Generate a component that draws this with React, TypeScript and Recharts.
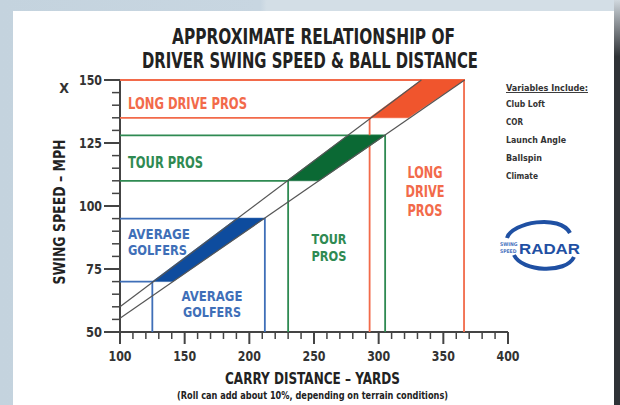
import { ComposedChart, Scatter, XAxis, YAxis } from 'recharts'

// carry distance (yards) vs swing speed (mph)
const xTicks = [100, 110, 120, 130, 140, 150, 160, 170, 180, 190, 200, 210, 220, 230, 240, 250, 260, 270, 280, 290, 300, 310, 320, 330, 340, 350, 360, 370, 380, 390, 400]
const yTicks = [50, 55, 60, 65, 70, 75, 80, 85, 90, 95, 100, 105, 110, 115, 120, 125, 130, 135, 140, 145, 150]
const xLabels = [100, 150, 200, 250, 300, 350, 400]
const yLabels = [50, 75, 100, 125, 150]

const upperLine = [{ d: 100, mph: 60 }, { d: 333, mph: 150 }]
const lowerLine = [{ d: 100, mph: 55.5 }, { d: 366.5, mph: 150 }]

const averageBand = [{ d: 125, mph: 70 }, { d: 141, mph: 70 }, { d: 211.5, mph: 95 }, { d: 190, mph: 95 }]
const tourBand = [{ d: 229, mph: 110 }, { d: 254, mph: 110 }, { d: 305, mph: 128 }, { d: 276, mph: 128 }]
const longBand = [{ d: 293, mph: 135 }, { d: 323, mph: 135 }, { d: 366.5, mph: 150 }, { d: 333, mph: 150 }]

const averageLow = [{ d: 100, mph: 70 }, { d: 125, mph: 70 }, { d: 125, mph: 50 }]
const averageHigh = [{ d: 100, mph: 95 }, { d: 212, mph: 95 }, { d: 212, mph: 50 }]
const tourLow = [{ d: 100, mph: 110 }, { d: 230, mph: 110 }, { d: 230, mph: 50 }]
const tourHigh = [{ d: 100, mph: 128 }, { d: 305, mph: 128 }, { d: 305, mph: 50 }]
const longLow = [{ d: 100, mph: 135 }, { d: 293, mph: 135 }, { d: 293, mph: 50 }]
const longHigh = [{ d: 100, mph: 150 }, { d: 366, mph: 150 }, { d: 366, mph: 50 }]

const variables = ['Club Loft', 'COR', 'Launch Angle', 'Ballspin', 'Climate']
const variableWidths = [39, 17, 60, 36, 32]

const FONT = "'Liberation Sans Narrow', 'DejaVu Sans Condensed', 'Arial Narrow', sans-serif"
const ORANGE = '#f26a4a'
const GREEN = '#2f8a52'
const BLUE = '#3f6fb8'
const AXIS = '#444'

const noDot = () => <g />

function YTick({ x, y, payload }: any) {
  const major = yLabels.includes(payload.value)
  return (
    <g>
      <line x1={x - (major ? 16 : 8)} x2={x} y1={y} y2={y} stroke={AXIS} strokeWidth={major ? 2 : 1.5} />
      {major && (
        <text x={x - 18} y={y + 5} textAnchor="end" fontFamily={FONT} fontWeight="bold" fontSize={14.5} fill="#333"
          textLength={payload.value >= 100 ? 23 : 16} lengthAdjust="spacingAndGlyphs">
          {payload.value}
        </text>
      )}
    </g>
  )
}

function XTick({ x, y, payload }: any) {
  const major = xLabels.includes(payload.value)
  return (
    <g>
      <line x1={x} x2={x} y1={y} y2={y + (major ? 12 : 7)} stroke={AXIS} strokeWidth={major ? 2 : 1.5} />
      {major && (
        <text x={x} y={y + 29} textAnchor="middle" fontFamily={FONT} fontWeight="bold" fontSize={14.5} fill="#333"
          textLength={23} lengthAdjust="spacingAndGlyphs">
          {payload.value}
        </text>
      )}
    </g>
  )
}

function boxLine(data: any[], color: string) {
  return <Scatter data={data} line={{ stroke: color, strokeWidth: 1.8 }} shape={noDot} isAnimationActive={false} />
}

function band(data: any[], color: string) {
  return (
    <Scatter
      data={data}
      line={{ fill: color, stroke: color, strokeWidth: 0.5 }}
      lineJointType="linearClosed"
      shape={noDot}
      isAnimationActive={false}
    />
  )
}

// one <text> with a tspan per line; each line squeezed to the width
function label(x: number, y: number, lines: string[], widths: number[], color: string, size = 15.5, gap = 16, anchor = 'start') {
  return (
    <text x={x} y={y} textAnchor={anchor} fontFamily={FONT} fontWeight="bold" fontSize={size} fill={color}>
      {lines.map((l, i) => (
        <tspan key={l} x={x} dy={i === 0 ? 0 : gap} textLength={widths[i]} lengthAdjust="spacingAndGlyphs">
          {l}
        </tspan>
      ))}
    </text>
  )
}

export default function App() {
  return (
    <div
      style={{
        position: 'fixed',
        left: 0,
        top: 0,
        width: 620,
        height: 405,
        overflow: 'hidden',
        background: 'linear-gradient(90deg, #c4d3de 0%, #c8d6e1 42%, #d3dee6 43%, #d3dee6 100%)',
      }}
    >
      <div style={{ position: 'absolute', left: 13, top: 11, width: 601, height: 394, background: '#fff' }} />
      <div
        style={{
          position: 'absolute',
          left: 614,
          top: 0,
          width: 6,
          height: 405,
          background: 'linear-gradient(180deg, #d0d8de 0%, #8a8f94 6%, #2f3236 14%, #2f3236 100%)',
        }}
      />
      <div style={{ position: 'absolute', left: 0, top: 0 }}>
        <ComposedChart width={620} height={405} margin={{ top: 80, right: 112, bottom: 43, left: 80 }}>
          <XAxis
            type="number"
            dataKey="d"
            domain={[100, 400]}
            ticks={xTicks}
            interval={0}
            height={30}
            tickSize={0}
            tickMargin={0}
            tickLine={false}
            axisLine={{ stroke: AXIS, strokeWidth: 2 }}
            tick={<XTick />}
          />
          <YAxis
            type="number"
            dataKey="mph"
            domain={[50, 150]}
            ticks={yTicks}
            interval={0}
            width={40}
            tickSize={0}
            tickMargin={0}
            tickLine={false}
            axisLine={{ stroke: AXIS, strokeWidth: 2 }}
            tick={<YTick />}
          />
          {boxLine(averageLow, BLUE)}
          {boxLine(averageHigh, BLUE)}
          {boxLine(tourLow, GREEN)}
          {boxLine(tourHigh, GREEN)}
          {boxLine(longLow, ORANGE)}
          {boxLine(longHigh, ORANGE)}
          {band(averageBand, '#0e4c9e')}
          {band(tourBand, '#0b6934')}
          {band(longBand, '#f0552d')}
          <Scatter data={upperLine} line={{ stroke: '#555', strokeWidth: 1.2 }} shape={noDot} isAnimationActive={false} />
          <Scatter data={lowerLine} line={{ stroke: '#555', strokeWidth: 1.2 }} shape={noDot} isAnimationActive={false} />
        </ComposedChart>
      </div>
      <svg width={620} height={405} style={{ position: 'absolute', left: 0, top: 0, pointerEvents: 'none' }}>
        <g fontFamily={FONT} fontWeight="bold" fill="#222" textAnchor="middle">
          <text x={313.5} y={44} fontSize={22} textLength={283} lengthAdjust="spacingAndGlyphs">APPROXIMATE RELATIONSHIP OF</text>
          <text x={310} y={68} fontSize={22} textLength={336} lengthAdjust="spacingAndGlyphs">DRIVER SWING SPEED &amp; BALL DISTANCE</text>
          <text x={312.5} y={384} fontSize={15.5} textLength={175} lengthAdjust="spacingAndGlyphs">CARRY DISTANCE – YARDS</text>
          <text x={312.5} y={399} fontSize={10} textLength={271} lengthAdjust="spacingAndGlyphs">(Roll can add about 10%, depending on terrain conditions)</text>
          <text x={64} y={93} fontSize={14} fill="#333">X</text>
          <text x={0} y={0} fontSize={15} textLength={145} lengthAdjust="spacingAndGlyphs" transform="translate(65 212) rotate(-90)">SWING SPEED – MPH</text>
        </g>
        <g fontFamily={FONT} fontWeight="bold" fill="#333" fontSize={9.5}>
          <text x={506} y={91} textDecoration="underline" textLength={82} lengthAdjust="spacingAndGlyphs">Variables Include:</text>
          {variables.map((v, i) => (
            <text key={v} x={506} y={107 + i * 18} fontSize={9} textLength={variableWidths[i]} lengthAdjust="spacingAndGlyphs">{v}</text>
          ))}
        </g>
        {label(128, 109, ['LONG DRIVE PROS'], [119], ORANGE)}
        {label(128, 168, ['TOUR PROS'], [75], GREEN)}
        {label(128, 239, ['AVERAGE', 'GOLFERS'], [62, 59], BLUE, 13.5, 16)}
        {label(212, 301, ['AVERAGE', 'GOLFERS'], [61, 58], BLUE, 13.5, 16, 'middle')}
        {label(329, 244, ['TOUR', 'PROS'], [35, 35], GREEN, 13.5, 17, 'middle')}
        {label(425, 178, ['LONG', 'DRIVE', 'PROS'], [35, 39, 35], ORANGE, 15.5, 19, 'middle')}
        <g>
          <path d="M507 238 C512 222 560 214 570 233" fill="none" stroke="#1f50a3" strokeWidth={4} />
          <path d="M514 255 C522 272 566 274 574 257" fill="none" stroke="#1f50a3" strokeWidth={4} />
          <text x={500} y={246} fontFamily={FONT} fontWeight="bold" fontSize={5} fill="#4b74c0">
            SWING
            <tspan x={500} dy={7}>SPEED</tspan>
          </text>
          <text x={519} y={254} fontFamily="'Liberation Sans', Arial, sans-serif" fontWeight="bold" fontSize={15} fill="#1f50a3"
            textLength={61} lengthAdjust="spacingAndGlyphs">RADAR</text>
        </g>
      </svg>
    </div>
  )
}
